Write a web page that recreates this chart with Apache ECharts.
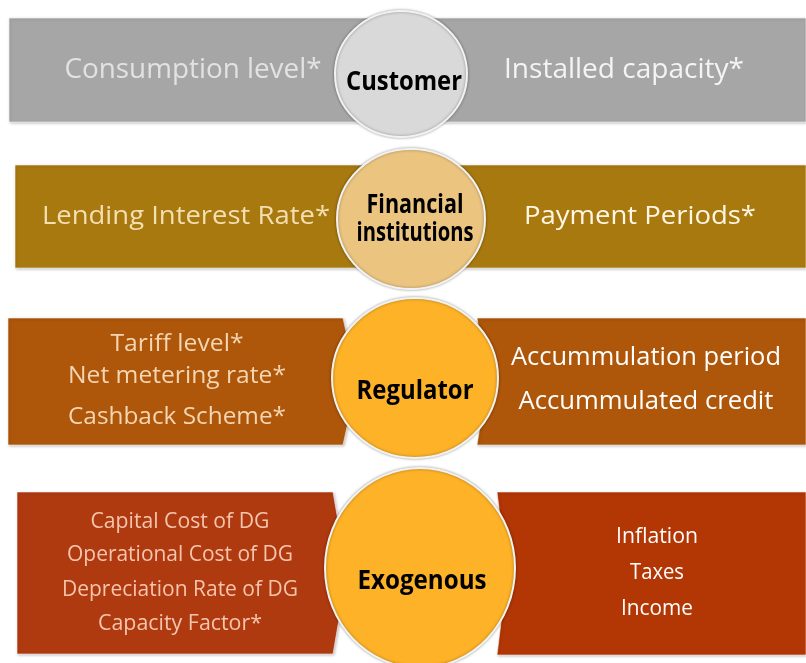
<!DOCTYPE html>
<html>
<head>
<meta charset="utf-8">
<script src="https://cdn.jsdelivr.net/npm/echarts@6/dist/echarts.min.js"></script>
<style>
  html, body { margin: 0; padding: 0; background: #fff; }
  #main { width: 806px; height: 663px; }
</style>
</head>
<body>
<div id="main"></div>
<script>
// actors in the middle circles
const actors = [['Customer'], ['Financial', 'institutions'], ['Regulator'], ['Exogenous']];
// parameters on the left of each actor
const leftItems = [
    ['Consumption level*'],
    ['Lending Interest Rate*'],
    ['Tariff level*', 'Net metering rate*', 'Cashback Scheme*'],
    ['Capital Cost of DG', 'Operational Cost of DG', 'Depreciation Rate of DG', 'Capacity Factor*']
];
// parameters on the right of each actor
const rightItems = [
    ['Installed capacity*'],
    ['Payment Periods*'],
    ['Accummulation period', 'Accummulated credit'],
    ['Inflation', 'Taxes', 'Income']
];

// layout of each row in page pixels: bands [x0, y0, x1, y1], ellipse [cx, cy, rx, ry],
// text anchors and text widths
const layout = [
    { left: [9, 18, 806, 122], right: null,
      ell: [401, 74, 66, 63], cx: 404, cy: [82], lx: 193, ly: [70], rx: 624, ry: [70],
      cw: [116], lw: [257], rw: [240] },
    { left: [15, 165, 806, 268], right: null,
      ell: [411, 219, 74, 70], cx: 415, cy: [205, 233], lx: 186, ly: [217], rx: 640, ry: [217],
      cw: [97, 117], lw: [288], rw: [232] },
    { left: [8, 318, 343, 445], right: [477, 318, 806, 445],
      ell: [415, 378, 83, 80], cx: 415, cy: [391], lx: 177, ly: [344, 376, 417], rx: 646, ry: [358, 402],
      cw: [117], lw: [133, 218, 218], rw: [270, 255] },
    { left: [17, 492, 333, 654], right: [497, 492, 806, 655],
      ell: [420, 568, 95, 100], cx: 422, cy: [581], lx: 180, ly: [522, 555, 590, 624], rx: 657, ry: [537, 573, 609],
      cw: [129], lw: [179, 226, 236, 164], rw: [82, 54, 72] }
];
const bandColors = [['#a6a6a6', '#a6a6a6'], ['#a8790f', '#a8790f'], ['#ae560a', '#ae560a'], ['#b03a10', '#b33605']];
const circleColors = ['#d9d9d9', '#ebc47f', '#fdb227', '#fdb227'];
const leftText = ['#e2e2e2', '#f4dfb2', '#f5d6b2', '#f6c5ae'];
const rightText = ['#f4f4f4', '#fff6e4', '#ffffff', '#ffffff'];
const leftSize = [27, 26, 24, 22];
const rightSize = [27, 26, 26, 22];

const measure = document.createElement('canvas').getContext('2d');
function fitText(str, x, y, size, weight, target, color) {
    const font = weight + ' ' + size + 'px "Open Sans"';
    measure.font = font;
    const w = measure.measureText(str).width;
    return {
        type: 'text', x: x, y: y, scaleX: target / w,
        style: { text: str, font: font, fill: color, align: 'center', verticalAlign: 'middle' }
    };
}

let chart = echarts.init(document.getElementById('main'));
let option = {
    animation: false,
    grid: { left: 0, right: 0, top: 0, bottom: 0 },
    xAxis: { type: 'value', min: 0, max: 806, show: false },
    yAxis: { type: 'value', min: 0, max: 663, inverse: true, show: false },
    series: [{
        type: 'custom',
        data: actors.map((a, i) => [i]),
        renderItem: function (params, api) {
            const i = api.value(0);
            const L = layout[i];
            const p = (x, y) => api.coord([x, y]);
            const children = [];
            const bandStyle = { stroke: 'rgba(255,255,255,0.55)', lineWidth: 1,
                shadowBlur: 3, shadowColor: 'rgba(0,0,0,0.25)', shadowOffsetX: 1, shadowOffsetY: 1 };
            if (!L.right) {
                const a = p(L.left[0], L.left[1]), b = p(L.left[2], L.left[3]);
                children.push({ type: 'rect', shape: { x: a[0], y: a[1], width: b[0] - a[0], height: b[1] - a[1] },
                    style: Object.assign({ fill: bandColors[i][0] }, bandStyle) });
            } else {
                const l = L.left, r = L.right;
                children.push({ type: 'polygon',
                    shape: { points: [p(l[0], l[1]), p(l[2], l[1]), p(l[2] + 14, (l[1] + l[3]) / 2), p(l[2], l[3]), p(l[0], l[3])] },
                    style: Object.assign({ fill: bandColors[i][0] }, bandStyle) });
                children.push({ type: 'polygon',
                    shape: { points: [p(r[0], r[1]), p(r[2], r[1]), p(r[2], r[3]), p(r[0], r[3]), p(r[0] + 10, (r[1] + r[3]) / 2)] },
                    style: Object.assign({ fill: bandColors[i][1] }, bandStyle) });
            }
            const c = p(L.ell[0], L.ell[1]);
            children.push({ type: 'ellipse', shape: { cx: c[0], cy: c[1], rx: L.ell[2], ry: L.ell[3] },
                style: { fill: circleColors[i], stroke: '#f2f2f2', lineWidth: 2, shadowBlur: 3, shadowColor: 'rgba(0,0,0,0.35)' } });
            actors[i].forEach((s, k) => {
                const q = p(L.cx, L.cy[k]);
                children.push(fitText(s, q[0], q[1], 27, 'bold', L.cw[k], '#000'));
            });
            leftItems[i].forEach((s, k) => {
                const q = p(L.lx, L.ly[k]);
                children.push(fitText(s, q[0], q[1], leftSize[i], 'normal', L.lw[k], leftText[i]));
            });
            rightItems[i].forEach((s, k) => {
                const q = p(L.rx, L.ry[k]);
                children.push(fitText(s, q[0], q[1], rightSize[i], 'normal', L.rw[k], rightText[i]));
            });
            return { type: 'group', children: children };
        }
    }]
};
option && chart.setOption(option);
</script>
</body>
</html>
